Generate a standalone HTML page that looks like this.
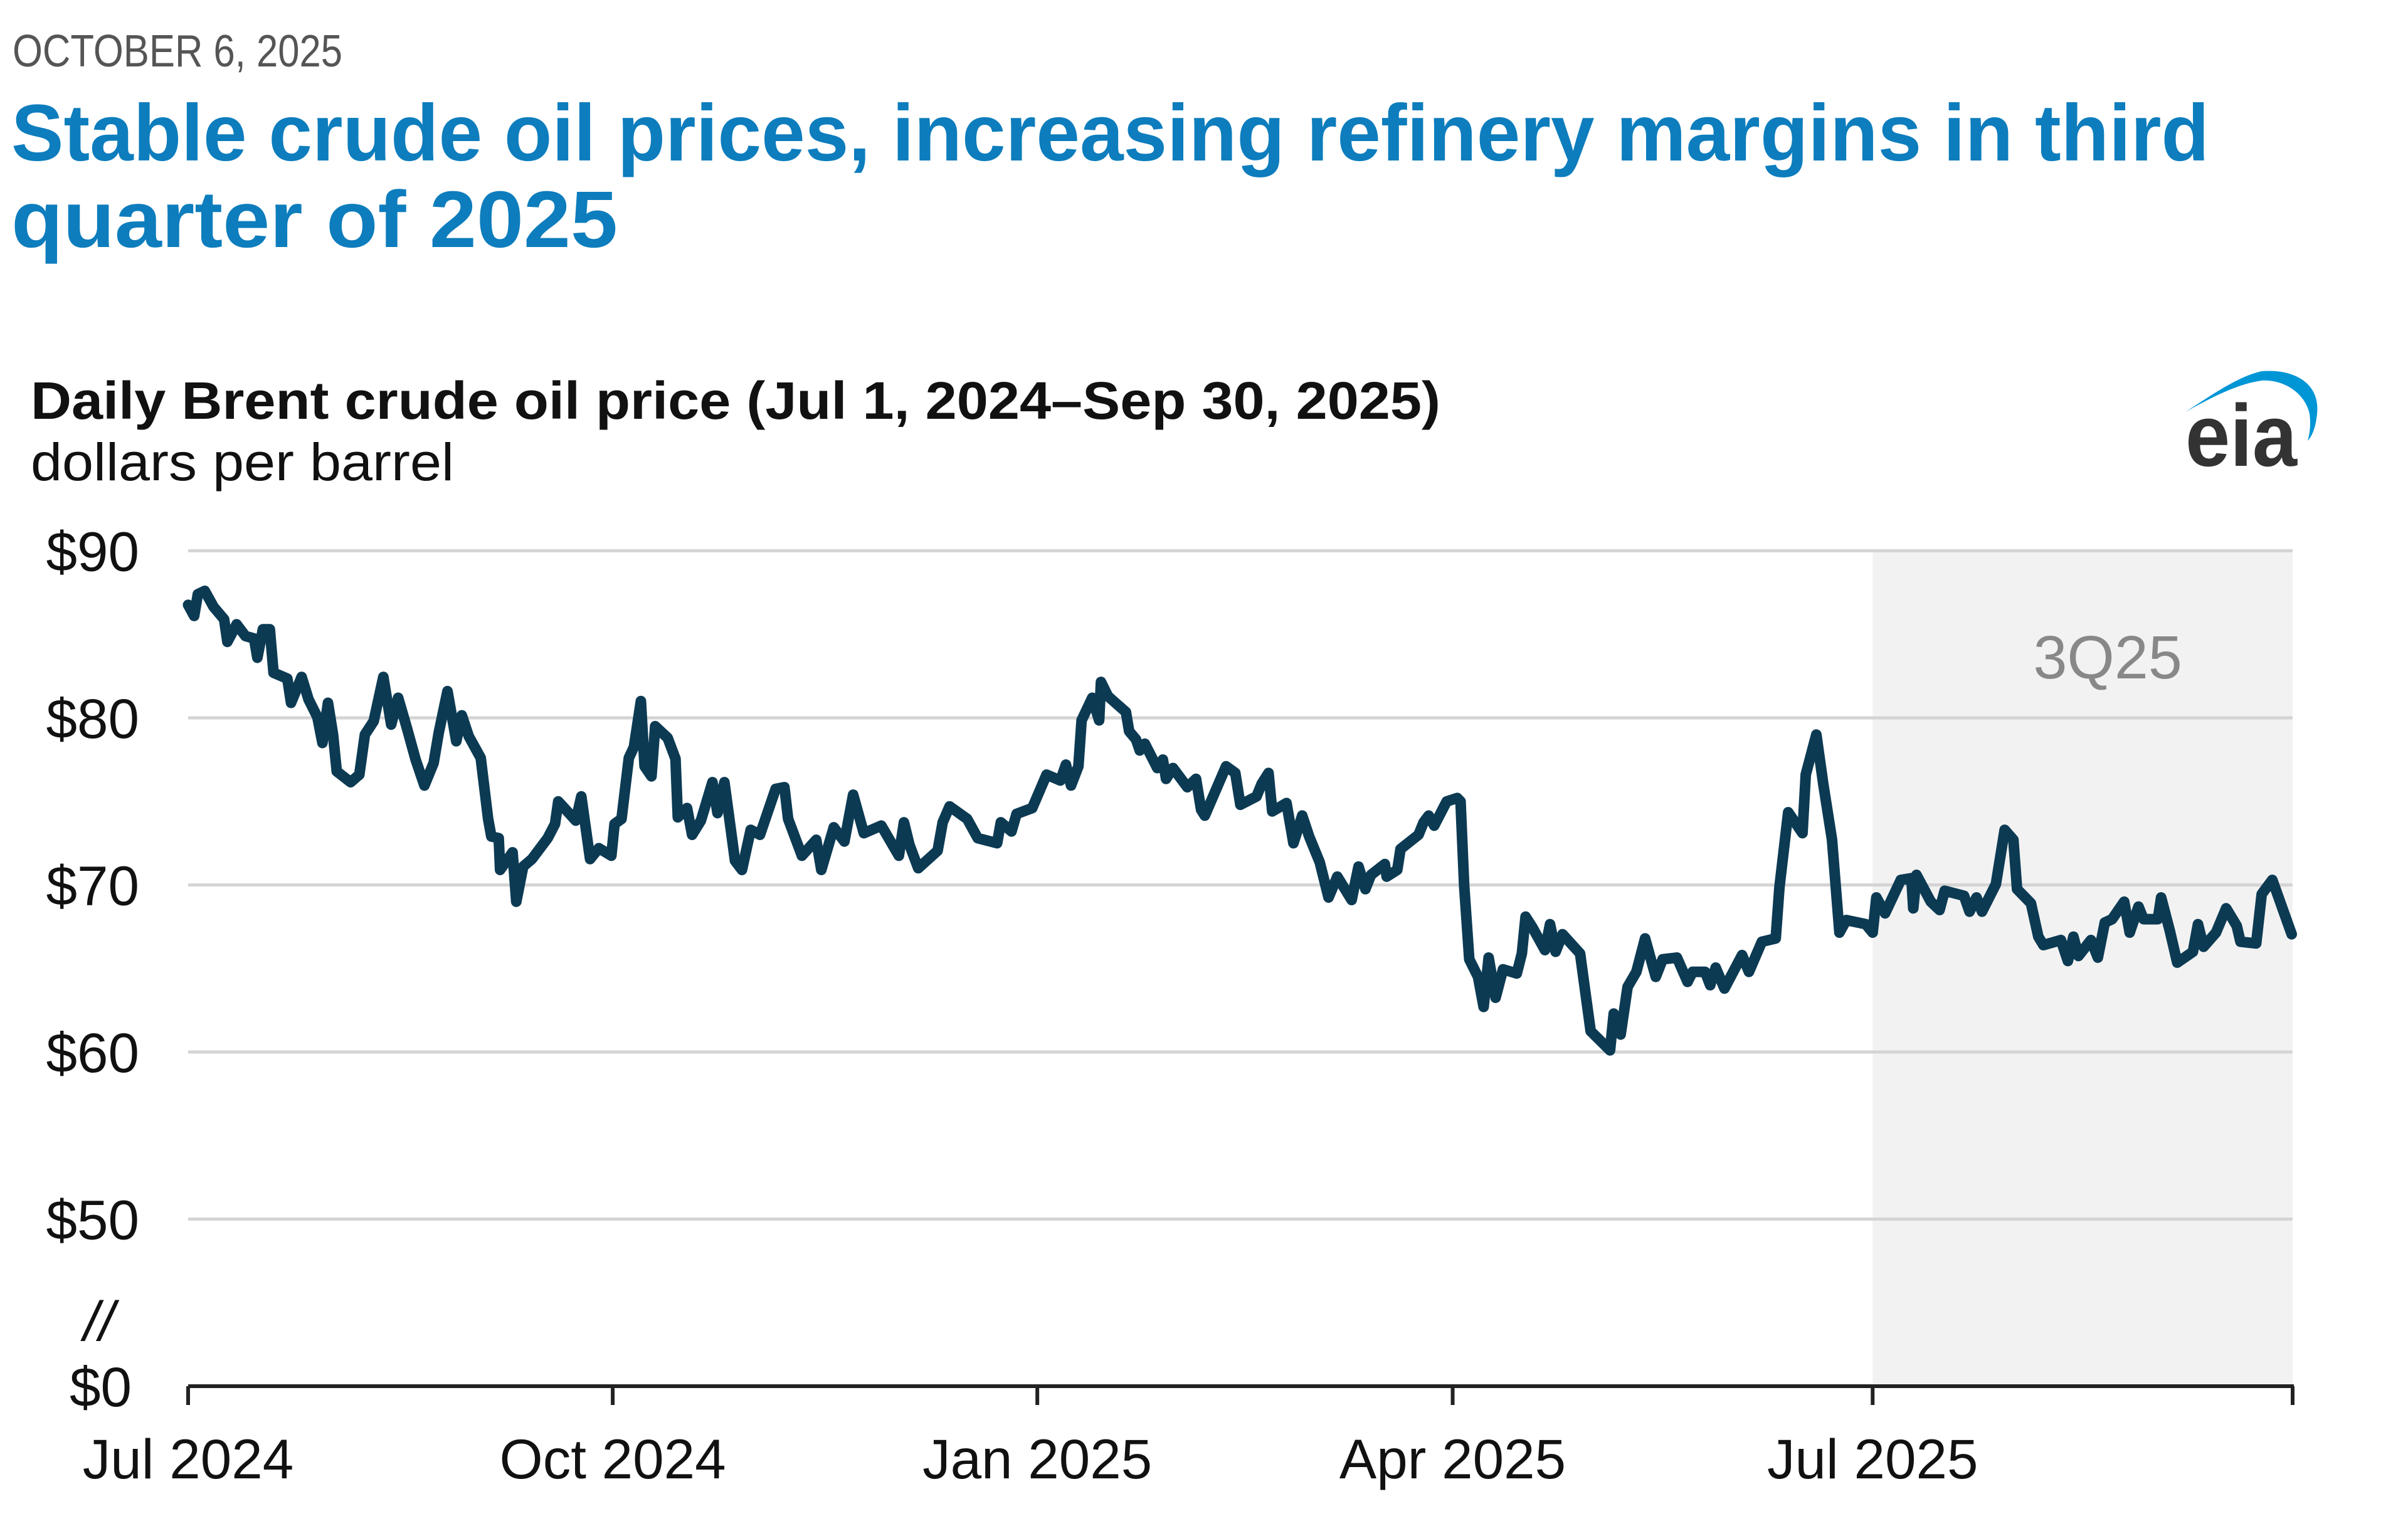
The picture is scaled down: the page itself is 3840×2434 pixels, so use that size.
<!DOCTYPE html>
<html><head><meta charset="utf-8"><style>
html,body{margin:0;padding:0;background:#fff;}
svg{display:block;}
</style></head><body>
<svg id="chart" width="3840" height="2434" viewBox="0 0 3840 2434" xmlns="http://www.w3.org/2000/svg" font-family="'Liberation Sans', sans-serif">
<rect x="0" y="0" width="3840" height="2434" fill="#fff"/>
<text x="20" y="106" font-size="72" fill="#555" textLength="526" lengthAdjust="spacingAndGlyphs">OCTOBER 6, 2025</text>
<text x="18" y="256" font-size="128" font-weight="bold" fill="#0d7dbd" textLength="3505" lengthAdjust="spacingAndGlyphs">Stable crude oil prices, increasing refinery margins in third</text>
<text x="18" y="394" font-size="128" font-weight="bold" fill="#0d7dbd" textLength="967" lengthAdjust="spacingAndGlyphs">quarter of 2025</text>
<text x="49" y="668" font-size="84" font-weight="bold" fill="#111" textLength="2248" lengthAdjust="spacingAndGlyphs">Daily Brent crude oil price (Jul 1, 2024–Sep 30, 2025)</text>
<text x="49" y="766" font-size="84" fill="#111" textLength="675" lengthAdjust="spacingAndGlyphs">dollars per barrel</text>
<g>
<path d="M3485,657 C3530,628 3570,600 3607,592 C3660,588 3700,612 3695,660 C3693,680 3688,695 3680,703 C3684,690 3685,675 3683,660 C3675,625 3640,605 3607,607 C3570,612 3530,632 3485,657 Z" fill="#0096d6"/>
<text x="3485" y="743" font-size="140" font-weight="bold" fill="#333" textLength="178" lengthAdjust="spacingAndGlyphs">eia</text>
</g>
<g id="plot"></g>
</svg>
<script>
const tickValues = [50, 60, 70, 80, 90];
const tickLabels = ["$50", "$60", "$70", "$80", "$90"];
const xTickDays = [0, 92, 184, 274, 365, 456];
const xTickLabels = ["Jul 2024", "Oct 2024", "Jan 2025", "Apr 2025", "Jul 2025", ""];
const shadeStartDay = 365;
const shadeEndDay = 456;
const shadeLabel = "3Q25";
const days = [0,1.3,2.1,3.6,5.5,7.8,8.5,10.5,12.4,14.3,15,16.2,17.7,18.5,21.5,22.3,24.6,26.1,28,29.1,30.3,31.4,32.2,35.2,37.1,38.3,40.2,42.3,44,45.5,47.4,49.3,51.2,53.2,54.3,56.2,58.1,59.3,60.8,63.4,65,65.7,67.3,67.6,70.3,71.1,72.6,74.5,77.9,79.5,80.2,84,85.2,87.1,89,91.7,92.4,93.9,95.5,96.6,98.1,98.9,100.4,101.2,103.9,105.6,106.1,108.1,109.2,111.1,
113.6,114.7,116.2,118.5,120,121.9,123.9,127.3,129.2,130,133,136.1,137.2,139.9,142.2,144.1,146.4,150.2,154,155.1,156.3,158.2,162.4,163.5,165,168.8,171.1,175.3,176.1,178.4,179.5,182.9,186,189,190.2,191.3,192.9,193.6,195.9,197.4,197.8,199.3,203.2,203.9,205.4,206.2,207.3,210,211.2,211.9,213.4,216.5,218.4,219.5,220.3,224.9,
226.9,228,231.5,232.6,234.1,234.9,238,239.5,241.4,242.9,245.2,247.1,249,252.1,253.6,255.1,256.3,259.3,259.7,262,262.7,266.6,267.7,268.8,270,272.7,275,275.7,276.5,277.6,279.5,280.7,281.8,283.3,284.9,287.9,289,289.8,291.3,294,295.1,296.3,297.8,301.6,303.9,308.1,308.9,310.4,311.9,313.8,315.7,318,319.5,322.6,324.9,326,328.7,329.8,331,332.9,336.7,338.2,
341,344,344.8,346.7,349.8,350.5,352.8,354.3,356.2,357.8,359.3,363.5,365,365.8,367.7,371.1,373.4,373.8,374.5,377.6,379.5,380.6,384.8,386,387.5,388.7,391.7,393.6,395.5,396.3,399.3,400.9,402,405.8,407.3,408.5,409.6,412.3,413.8,415.3,416.9,419.5,420.7,422.6,423.7,426.8,427.5,429.4,431,434.4,435.5,436.7,439.4,441.6,443.9,444.7,448.1,449.3,451.6,455.8];
const prices = [86.76,86.1,87.4,87.6,86.65,85.9,84.55,85.6,84.9,84.75,83.6,85.3,85.3,82.7,82.35,80.9,82.45,81.1,80.05,78.5,80.9,79,76.8,76.15,76.6,79,79.8,82.45,79.6,81.2,79.4,77.5,75.95,77.3,79.1,81.6,78.6,80.15,78.9,77.6,73.95,72.9,72.8,70.9,71.95,69.0,71.1,71.55,72.8,73.65,75.0,73.85,75.3,71.55,72.2,71.75,73.65,73.95,77.6,78.25,81.0,77.1,76.5,79.5,78.8,77.55,74.05,74.6,73.0,73.85,
76.15,74.3,76.15,71.45,70.9,73.3,73.0,75.75,75.85,73.95,71.75,72.7,70.9,73.45,72.6,75.4,73.1,73.55,71.75,73.75,72.4,71.0,72.05,73.75,74.7,73.95,72.8,72.5,73.75,73.2,74.25,74.6,76.6,76.25,77.2,75.95,77.1,79.85,81.2,79.85,82.15,81.3,80.35,79.2,78.7,78.05,78.45,77.0,77.5,76.35,77.0,75.85,76.35,74.5,74.15,77.1,
76.7,74.8,75.3,76.05,76.7,74.4,74.9,72.5,74.15,72.9,71.35,69.25,70.5,69.1,71.1,69.75,70.6,71.25,70.5,70.9,72.15,73.0,73.75,74.15,73.55,75.0,75.2,75.0,69.95,65.55,64.5,62.7,65.65,63.25,64.95,64.7,65.9,68.1,67.45,66.1,67.65,66.0,67.05,65.9,61.25,60.1,62.3,61.05,63.9,64.8,66.8,64.5,65.55,65.65,64.2,64.8,64.8,64.0,65.05,63.8,65.8,64.8,
66.6,66.8,69.85,74.35,73.1,76.6,79.0,76.05,72.7,67.15,67.9,67.65,67.15,69.25,68.3,70.3,70.4,68.6,70.6,69.0,68.5,69.65,69.35,68.4,69.25,68.4,70.05,73.3,72.7,69.75,68.9,66.9,66.4,66.7,65.45,66.9,65.75,66.7,65.65,67.75,67.95,69.0,67.15,68.7,67.95,67.95,69.25,67.25,65.35,66.0,67.65,66.3,67.15,68.6,67.55,66.6,66.5,69.45,70.3,67.05];

const NS = "http://www.w3.org/2000/svg";
const X0 = 300, X1 = 3656, AXIS_Y = 2211;
const xScale = d => X0 + d * (X1 - X0) / 456;
const yScale = v => 1678 - (v - 60) * 26.65;
const g = document.getElementById('plot');
function mk(tag, attrs) { const e = document.createElementNS(NS, tag); for (const k in attrs) e.setAttribute(k, attrs[k]); g.appendChild(e); return e; }

const shade = mk('rect', {x: xScale(shadeStartDay), y: yScale(90), width: xScale(shadeEndDay) - xScale(shadeStartDay), height: AXIS_Y - yScale(90), fill: '#f2f2f2'});


const sl = mk('text', {x: (xScale(shadeStartDay) + xScale(shadeEndDay)) / 2 + 40, y: 1082, 'font-size': 97, fill: '#888', 'text-anchor': 'middle'});
sl.textContent = shadeLabel;



tickValues.forEach((v, i) => {
  const l = mk('line', {x1: X0, x2: X1, y1: yScale(v), y2: yScale(v), stroke: '#d4d4d4', 'stroke-width': 5});
  
  
  const t = mk('text', {x: 222, y: yScale(v) + 32, 'font-size': 89, fill: '#111', 'text-anchor': 'end'});
  t.textContent = tickLabels[i];
  
  
});
const z = mk('text', {x: 210, y: AXIS_Y + 32, 'font-size': 89, fill: '#111', 'text-anchor': 'end'});
z.textContent = "$0";


const br = mk('text', {x: 158, y: 2138, 'font-size': 89, fill: '#111', 'text-anchor': 'middle', 'font-style': 'italic'});
br.textContent = "//";



const ax = mk('line', {x1: X0, x2: X1 + 2, y1: AXIS_Y, y2: AXIS_Y, stroke: '#222', 'stroke-width': 6});


xTickDays.forEach((d, i) => {
  const tk = mk('line', {x1: xScale(d), x2: xScale(d), y1: AXIS_Y, y2: AXIS_Y + 30, stroke: '#222', 'stroke-width': 6});
  
  
  if (xTickLabels[i]) {
    const t = mk('text', {x: xScale(d), y: 2358, 'font-size': 89, fill: '#111', 'text-anchor': 'middle'});
    t.textContent = xTickLabels[i];
    
    
  }
});

const pts = days.map((d, i) => xScale(d).toFixed(1) + ',' + yScale(prices[i]).toFixed(1)).join(' ');
const line = mk('polyline', {points: pts, fill: 'none', stroke: '#0c3a53', 'stroke-width': 17, 'stroke-linejoin': 'round', 'stroke-linecap': 'round'});


</script>
</body></html>
